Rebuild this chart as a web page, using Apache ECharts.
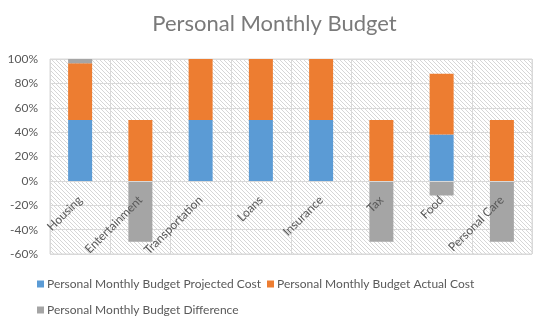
<!DOCTYPE html>
<html><head><meta charset="utf-8">
<script src="https://cdn.jsdelivr.net/npm/echarts@6/dist/echarts.min.js"></script>
<style>html,body{margin:0;padding:0;background:#fff}#c{width:549px;height:330px}</style>
</head><body><div id="c"></div>
<script>
var categories = ['Housing','Entertainment','Transportation','Loans','Insurance','Tax','Food','Personal Care'];
var projected = [50, 0, 50, 50, 50, 0, 38, 0];
var actual = [46.5, 50, 50, 50, 50, 50, 50, 50];
var difference = [3.5, -50, 0, 0, 0, -50, -12, -50];
var yTicks = [-60, -40, -20, 0, 20, 40, 60, 80, 100];

var pc = document.createElement('canvas');
pc.width = 4; pc.height = 4;
var ctx = pc.getContext('2d');
ctx.fillStyle = '#ffffff'; ctx.fillRect(0,0,4,4);
ctx.fillStyle = '#d6d6d6';
for (var i = 0; i < 4; i++) ctx.fillRect(i, i, 1, 1);

var font = 'Lato, "Open Sans", sans-serif';
var chart = echarts.init(document.getElementById('c'));
chart.setOption({
  animation: false,
  title: { text: 'Personal Monthly Budget', left: 'center', top: 8,
    textStyle: { fontFamily: font, fontSize: 22, fontWeight: 'normal', color: '#7a7a7a' } },
  grid: { left: 50, right: 17, top: 59, bottom: 76, show: true,
    backgroundColor: { image: pc, repeat: 'repeat' }, borderColor: '#d9d9d9', borderWidth: 1 },
  legend: [
    { data: ['Personal Monthly Budget Projected Cost','Personal Monthly Budget Actual Cost'],
      left: 32, top: 273, itemWidth: 7, itemHeight: 7, itemGap: 6, icon: 'rect',
      textStyle: { fontFamily: font, fontSize: 12, color: '#595959', padding: [0,0,0,-2] } },
    { data: ['Personal Monthly Budget Difference'],
      left: 32, top: 299, itemWidth: 7, itemHeight: 7, icon: 'rect',
      textStyle: { fontFamily: font, fontSize: 12, color: '#595959', padding: [0,0,0,-2] } }
  ],
  xAxis: { type: 'category', data: categories, position: 'bottom', offset: -73, z: 10,
    axisLine: { onZero: false, lineStyle: { color: '#d9d9d9' } },
    axisTick: { show: false },
    splitLine: { show: true, lineStyle: { color: '#d9d9d9' } },
    axisLabel: { rotate: 45, fontFamily: font, fontSize: 12, color: '#595959', margin: 17, interval: 0 } },
  yAxis: { type: 'value', min: yTicks[0], max: yTicks[yTicks.length-1], interval: 20,
    axisLine: { show: false }, axisTick: { show: false },
    splitLine: { lineStyle: { color: '#d9d9d9' } },
    axisLabel: { fontFamily: font, fontSize: 12, color: '#595959', formatter: '{value}%', margin: 12 } },
  series: [
    { name: 'Personal Monthly Budget Projected Cost', type: 'bar', stack: 's', data: projected, barWidth: 24, itemStyle: { color: '#5b9bd5' } },
    { name: 'Personal Monthly Budget Actual Cost', type: 'bar', stack: 's', data: actual, barWidth: 24, itemStyle: { color: '#ed7d31' } },
    { name: 'Personal Monthly Budget Difference', type: 'bar', stack: 's', data: difference, barWidth: 24, itemStyle: { color: '#a5a5a5' } }
  ]
});
</script></body></html>
